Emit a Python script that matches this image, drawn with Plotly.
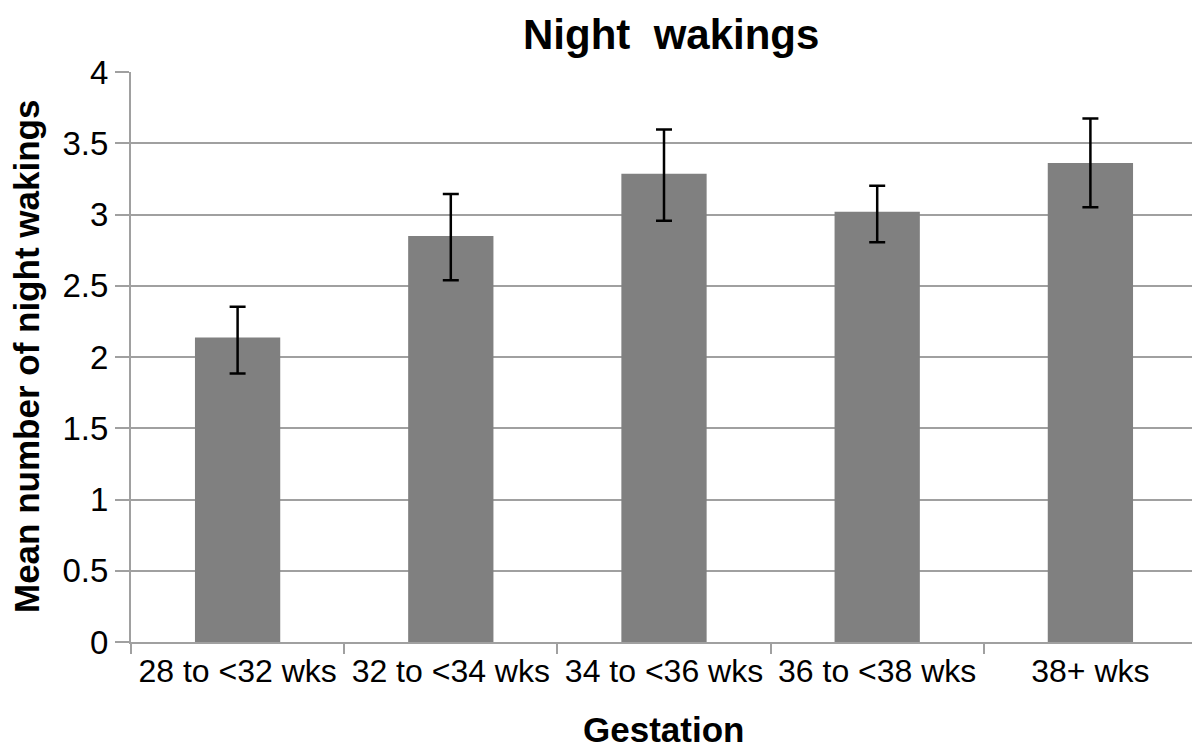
import plotly.graph_objects as go

categories = ["28 to <32 wks", "32 to <34 wks", "34 to <36 wks", "36 to <38 wks", "38+ wks"]
means = [2.136, 2.850, 3.286, 3.020, 3.361]
err_plus = [0.217, 0.294, 0.311, 0.182, 0.313]
err_minus = [0.252, 0.311, 0.329, 0.214, 0.311]
y_ticks = [0, 0.5, 1, 1.5, 2, 2.5, 3, 3.5, 4]
y_tick_labels = ["0", "0.5", "1", "1.5", "2", "2.5", "3", "3.5", "4"]

FONT = "Liberation Sans, Arial, Helvetica, sans-serif"
GRID = "#a0a0a0"

# page body has an 8px margin, so figure pixels = page pixels - 8
OFF = 8
W, H = 1200 - OFF, 751 - OFF
ML, MT = 131 - OFF, 72 - OFF
PR, PB = 1197 - OFF, 642 - OFF  # plot right / bottom edges in figure px
MR, MB = W - PR, H - PB
PW = W - ML - MR
PH = H - MT - MB

def px_x(px):
    return (px - OFF - ML) / PW

def px_y(py):
    return (PB - (py - OFF)) / PH

fig = go.Figure(
    go.Bar(
        x=categories,
        y=means,
        marker=dict(color="#808080", line=dict(width=0)),
        width=0.4,
        error_y=dict(
            type="data",
            symmetric=False,
            array=err_plus,
            arrayminus=err_minus,
            color="black",
            thickness=2.5,
            width=8,
        ),
    )
)

fig.update_layout(
    width=W,
    height=H,
    paper_bgcolor="white",
    plot_bgcolor="white",
    margin=dict(l=ML, r=MR, t=MT, b=MB),
    showlegend=False,
    font=dict(family=FONT, color="black"),
    annotations=[
        dict(
            text="<b>Night\u00a0 wakings</b>",
            xref="paper", yref="paper",
            x=px_x(671), y=px_y(34),
            xanchor="center", yanchor="middle",
            showarrow=False,
            font=dict(family=FONT, size=42, color="black"),
        ),
        dict(
            text="<b>Gestation</b>",
            xref="paper", yref="paper",
            x=px_x(663), y=px_y(729),
            xanchor="center", yanchor="middle",
            showarrow=False,
            font=dict(family=FONT, size=35, color="black"),
        ),
        dict(
            text="<b>Mean number of night wakings</b>",
            xref="paper", yref="paper",
            x=px_x(26), y=px_y(357),
            xanchor="center", yanchor="middle",
            textangle=-90,
            showarrow=False,
            font=dict(family=FONT, size=35, color="black"),
        ),
    ],
)

fig.update_xaxes(
    type="category",
    automargin=False,
    showline=True,
    linecolor=GRID,
    linewidth=2,
    ticks="outside",
    tickson="boundaries",
    ticklen=10,
    tickwidth=2,
    tickcolor=GRID,
    tickangle=0,
    tickfont=dict(family=FONT, size=32, color="black"),
    showgrid=False,
)

fig.update_yaxes(
    range=[0, 4],
    automargin=False,
    tickvals=y_ticks,
    ticktext=y_tick_labels,
    showline=True,
    linecolor=GRID,
    linewidth=2,
    ticks="outside",
    ticklen=14,
    tickwidth=2,
    tickcolor=GRID,
    showgrid=True,
    gridcolor=GRID,
    gridwidth=2,
    zeroline=False,
    tickfont=dict(family=FONT, size=33, color="black"),
)

fig.write_html("out.html")
